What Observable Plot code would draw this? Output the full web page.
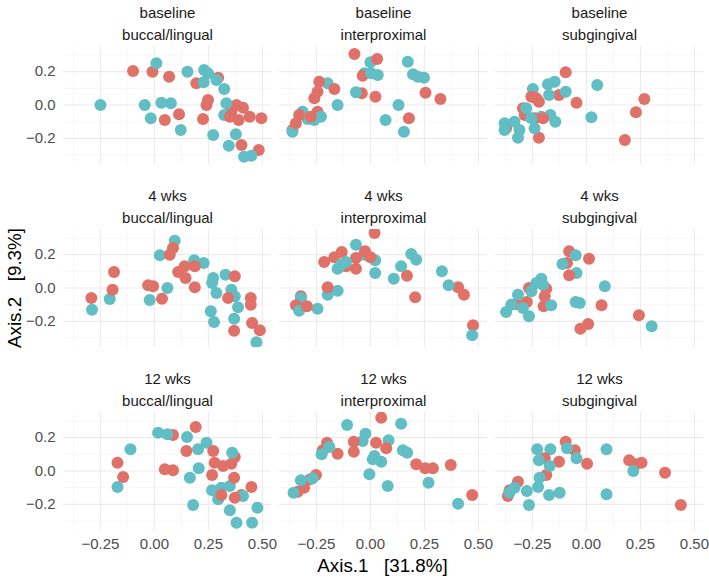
<!DOCTYPE html>
<html>
<head>
<meta charset="utf-8">
<script src="https://cdn.jsdelivr.net/npm/d3@7"></script>
<script src="https://cdn.jsdelivr.net/npm/@observablehq/plot@0.6"></script>
<style>
  body { margin: 0; background: #fff; }
  #wrap { position: relative; width: 709px; height: 580px; font-family: "Liberation Sans", Arial, Helvetica, sans-serif; }
  .xt { position: absolute; left: 62px; width: 641px; top: 556px; text-align: center; font-size: 18.75px; white-space: pre; color: #000; line-height: 20px; }
  .yt { position: absolute; left: 15px; top: 288px; transform: translate(-50%, -50%) rotate(-90deg); font-size: 18.75px; white-space: pre; color: #000; line-height: 20px; }
</style>
</head>
<body>
<div id="wrap"></div>
<script>
const times = ["baseline", "4 wks", "12 wks"];
const sites = ["buccal/lingual", "interproximal", "subgingival"];
const groups = ["A", "B"];
const groupColors = ["#E07168", "#60BEC4"];
const xMajor = [-0.25, 0, 0.25, 0.5];
const xMinor = [-0.375, -0.125, 0.125, 0.375];
const yMajor = [-0.2, 0, 0.2];
const yMinor = [-0.3, -0.1, 0.1, 0.3];
const xTitle = "Axis.1   [31.8%]";
const yTitle = "Axis.2   [9.3%]";

// baseline
const base_bl_A = [[-0.099,0.204],[-0.009,0.2],[0.068,0.17],[0.194,0.13],[0.295,0.164],[0.248,0.03],[0.241,0.0],[0.048,-0.09],[0.114,-0.056],[0.225,-0.084],[0.38,0.0],[0.41,-0.016],[0.356,-0.04],[0.39,-0.09],[0.441,-0.07],[0.495,-0.08],[0.403,-0.24],[0.483,-0.27],[0.349,-0.07]];
const base_bl_B = [[-0.25,0.0],[0.009,0.25],[-0.045,0.0],[-0.017,-0.08],[0.032,0.014],[0.076,0.01],[0.122,-0.15],[0.153,0.2],[0.23,0.21],[0.248,0.19],[0.228,0.136],[0.287,0.15],[0.323,0.096],[0.333,0.01],[0.323,-0.06],[0.272,-0.18],[0.377,-0.176],[0.344,-0.244],[0.415,-0.31],[0.449,-0.304]];
const base_ip_A = [[-0.074,0.306],[0.031,0.276],[-0.036,0.176],[-0.04,0.07],[0.023,0.05],[-0.237,0.14],[-0.167,0.096],[-0.26,0.04],[-0.245,0.08],[-0.245,-0.04],[-0.33,-0.06],[-0.361,-0.15],[-0.345,-0.11],[0.255,0.074],[0.324,0.036],[0.178,-0.08],[-0.276,-0.07]];
const base_ip_B = [[0.0,0.256],[-0.028,0.19],[0.034,0.18],[0.003,0.19],[-0.198,0.13],[-0.067,0.076],[-0.152,0.0],[-0.314,-0.04],[-0.291,-0.084],[-0.26,-0.09],[-0.229,-0.07],[-0.361,-0.16],[0.173,0.26],[0.197,0.184],[0.22,0.17],[0.248,0.164],[0.13,0.0],[0.07,-0.09],[0.155,-0.16]];
const base_sg_A = [[-0.096,0.196],[-0.046,0.014],[-0.127,0.06],[-0.232,0.04],[-0.22,0.02],[-0.255,0.05],[-0.294,-0.02],[-0.286,-0.06],[-0.24,-0.08],[-0.22,-0.196],[-0.201,-0.08],[-0.372,-0.14],[0.268,0.036],[0.229,-0.044],[0.178,-0.21]];
const base_sg_B = [[0.05,0.12],[0.023,-0.074],[-0.248,0.096],[-0.178,0.124],[-0.147,0.14],[-0.173,0.06],[-0.096,0.08],[-0.209,-0.07],[-0.167,-0.06],[-0.144,-0.1],[-0.24,-0.14],[-0.279,-0.02],[-0.379,-0.11],[-0.379,-0.15],[-0.333,-0.1],[-0.31,-0.15],[-0.317,-0.196],[-0.255,-0.08]];
// 4 wks
const w4_bl_A = [[-0.292,-0.06],[-0.187,0.096],[-0.194,-0.01],[-0.029,0.016],[-0.006,0.01],[0.035,-0.064],[0.071,0.2],[0.086,0.24],[0.11,0.096],[0.14,0.13],[0.144,0.06],[0.187,0.13],[0.187,0.004],[0.372,0.07],[0.341,-0.06],[0.446,-0.06],[0.446,-0.1],[0.452,-0.21],[0.488,-0.254],[0.369,-0.256]];
const w4_bl_B = [[-0.289,-0.13],[-0.207,-0.066],[-0.022,-0.072],[0.06,0.0],[0.025,0.196],[0.094,0.284],[0.184,0.166],[0.228,0.15],[0.272,0.06],[0.267,0.03],[0.287,-0.03],[0.329,0.08],[0.356,-0.01],[0.372,-0.05],[0.387,-0.116],[0.369,-0.184],[0.261,-0.14],[0.276,-0.204],[0.472,-0.326]];
const w4_ip_A = [[0.019,0.33],[-0.214,0.156],[-0.167,0.184],[-0.133,0.216],[-0.113,0.13],[-0.067,0.116],[-0.067,0.18],[-0.025,0.22],[0.0,0.184],[-0.198,0.004],[-0.322,-0.05],[-0.345,-0.104],[-0.294,-0.11],[0.169,0.074],[0.207,-0.056],[0.406,0.004],[0.433,-0.04],[0.475,-0.224]];
const w4_ip_B = [[-0.067,0.26],[-0.031,0.2],[0.022,0.166],[0.022,0.09],[-0.152,0.116],[-0.136,0.14],[-0.113,0.156],[-0.198,-0.04],[-0.152,-0.016],[-0.245,-0.124],[-0.322,-0.06],[-0.33,-0.136],[0.108,0.056],[0.142,0.13],[0.189,0.204],[0.212,0.17],[0.331,0.1],[0.362,0.016],[0.471,-0.284]];
const w4_sg_A = [[-0.08,0.22],[-0.09,0.15],[0.012,0.176],[-0.08,0.076],[-0.186,-0.004],[-0.193,-0.05],[-0.198,-0.11],[-0.266,0.0],[-0.276,-0.084],[-0.325,-0.096],[0.07,-0.104],[-0.028,-0.244],[0.008,-0.216],[0.243,-0.164]];
const w4_sg_B = [[-0.05,0.196],[-0.111,0.144],[-0.046,0.09],[0.085,0.01],[-0.05,-0.084],[-0.031,-0.09],[-0.209,0.056],[-0.232,0.03],[-0.255,-0.02],[-0.163,-0.104],[-0.317,-0.04],[-0.348,-0.1],[-0.372,-0.144],[-0.294,-0.12],[-0.266,-0.17],[0.302,-0.23],[-0.201,0.02]];
// 12 wks
const w12_bl_A = [[-0.171,0.05],[-0.145,-0.036],[0.086,0.216],[0.048,0.01],[0.086,0.004],[0.191,0.264],[0.148,0.12],[0.272,0.12],[0.267,-0.024],[0.279,0.05],[0.318,0.03],[0.372,0.084],[0.356,0.044],[0.369,-0.04],[0.449,-0.096],[0.403,-0.144],[0.31,-0.144],[0.372,-0.16]];
const w12_bl_B = [[-0.171,-0.096],[-0.111,0.13],[0.017,0.23],[0.06,0.22],[0.151,0.204],[0.202,0.13],[0.241,0.17],[0.205,0.016],[0.164,-0.04],[0.179,-0.204],[0.267,-0.116],[0.31,-0.1],[0.349,-0.09],[0.36,0.11],[0.295,-0.17],[0.41,-0.15],[0.349,-0.236],[0.477,-0.22],[0.38,-0.31],[0.452,-0.31]];
const w12_ip_A = [[0.05,0.32],[-0.201,0.17],[-0.221,0.124],[-0.152,0.104],[-0.077,0.176],[-0.077,0.116],[0.026,0.17],[0.073,0.136],[-0.252,-0.024],[-0.307,-0.1],[-0.337,-0.124],[-0.279,-0.05],[0.212,0.04],[0.254,0.016],[0.289,0.016],[0.372,0.036],[0.471,-0.144]];
const w12_ip_B = [[-0.108,0.276],[-0.023,0.224],[-0.036,0.18],[0.084,0.184],[0.142,0.284],[0.15,0.124],[0.17,0.11],[0.019,0.09],[0.05,0.056],[0.011,0.07],[-0.19,0.144],[-0.226,0.1],[-0.268,-0.044],[-0.322,-0.056],[-0.356,-0.13],[-0.005,-0.02],[0.08,-0.09],[0.269,-0.07],[0.406,-0.196]];
const w12_sg_A = [[-0.096,0.176],[-0.054,0.124],[-0.127,0.056],[-0.193,0.076],[-0.186,-0.024],[0.003,0.044],[0.198,0.064],[0.229,0.04],[0.255,0.05],[0.364,-0.01],[0.437,-0.204],[-0.317,-0.064],[-0.364,-0.15],[-0.356,-0.116]];
const w12_sg_B = [[-0.228,0.13],[-0.167,0.13],[-0.09,0.136],[-0.046,0.076],[-0.22,0.064],[-0.17,0.03],[0.093,0.13],[0.217,0.0],[-0.217,-0.04],[-0.224,-0.096],[-0.276,-0.12],[-0.173,-0.144],[-0.124,-0.13],[-0.266,-0.204],[-0.333,-0.1],[-0.356,-0.13],[0.093,-0.14]];

const panelSeries = [
  ["baseline", "buccal/lingual", base_bl_A, base_bl_B],
  ["baseline", "interproximal", base_ip_A, base_ip_B],
  ["baseline", "subgingival", base_sg_A, base_sg_B],
  ["4 wks", "buccal/lingual", w4_bl_A, w4_bl_B],
  ["4 wks", "interproximal", w4_ip_A, w4_ip_B],
  ["4 wks", "subgingival", w4_sg_A, w4_sg_B],
  ["12 wks", "buccal/lingual", w12_bl_A, w12_bl_B],
  ["12 wks", "interproximal", w12_ip_A, w12_ip_B],
  ["12 wks", "subgingival", w12_sg_A, w12_sg_B]
];

const points = panelSeries.flatMap(([time, site, a, b]) => {
  const out = [];
  const n = Math.max(a.length, b.length);
  for (let i = 0; i < n; i++) {
    if (i < a.length) out.push({time, site, group: groups[0], x: a[i][0], y: a[i][1]});
    if (i < b.length) out.push({time, site, group: groups[1], x: b[i][0], y: b[i][1]});
  }
  return out;
});

const strips = times.flatMap(t => sites.map(s => ({time: t, site: s, label: t + "\n" + s})));

const chart = Plot.plot({
  width: 709,
  height: 580,
  marginTop: 45,
  marginBottom: 50,
  marginLeft: 62,
  marginRight: 6,
  style: {fontFamily: "'Liberation Sans', Arial, Helvetica, sans-serif", background: "#fff"},
  x: {domain: [-0.421, 0.542], label: null},
  y: {domain: [-0.357, 0.351], label: null},
  fx: {domain: sites, paddingInner: 0.039, paddingOuter: 0, axis: null, label: null},
  fy: {domain: times, paddingInner: 0.357, paddingOuter: 0, axis: null, label: null},
  color: {domain: groups, range: groupColors},
  marks: [
    Plot.ruleX(xMinor, {stroke: "#f1f1f1", strokeWidth: 0.6}),
    Plot.ruleY(yMinor, {stroke: "#f1f1f1", strokeWidth: 0.6}),
    Plot.ruleX(xMajor, {stroke: "#ebebeb", strokeWidth: 1.1}),
    Plot.ruleY(yMajor, {stroke: "#ebebeb", strokeWidth: 1.1}),
    Plot.axisX({ticks: xMajor, tickFormat: d3.format(".2f"), tickSize: 0, tickPadding: 8, fontSize: 15, fill: "#4d4d4d", label: null}),
    Plot.axisY({ticks: yMajor, tickFormat: d3.format(".1f"), tickSize: 0, tickPadding: 8, fontSize: 15, fill: "#4d4d4d", label: null}),
    Plot.dot(points, {x: "x", y: "y", fx: "site", fy: "time", fill: "group", r: 6, clip: true}),
    Plot.text(strips, {fx: "site", fy: "time", text: "label", frameAnchor: "top", dy: -25, lineAnchor: "middle", lineHeight: 1.47, fontSize: 15, fill: "#1a1a1a"})
  ]
});

const wrap = document.getElementById("wrap");
wrap.appendChild(chart);
const xt = document.createElement("div"); xt.className = "xt"; xt.textContent = xTitle; wrap.appendChild(xt);
const yt = document.createElement("div"); yt.className = "yt"; yt.textContent = yTitle; wrap.appendChild(yt);
</script>
</body>
</html>
